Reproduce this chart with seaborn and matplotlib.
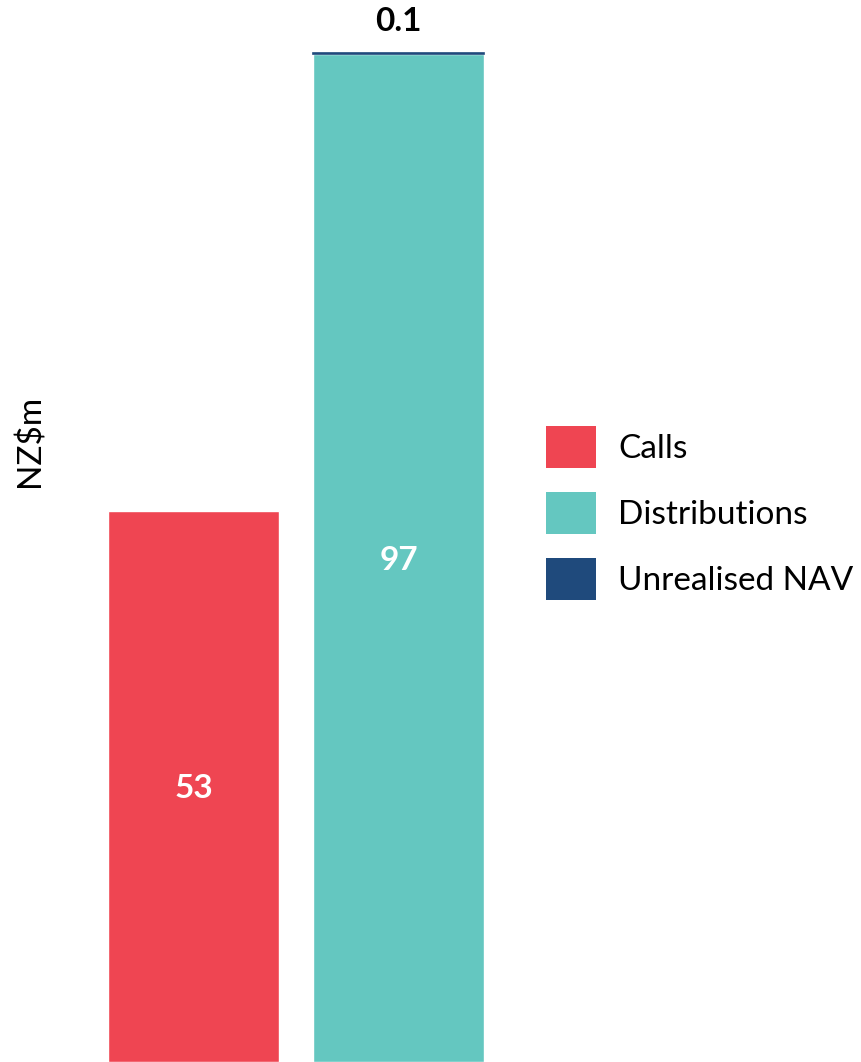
import matplotlib
matplotlib.use("Agg")
import matplotlib.pyplot as plt
import seaborn as sns
import pandas as pd
from matplotlib.patches import Patch

categories = ["Calls", "Distributions"]
base_values = [53, 97]
nav_value = 0.1
series_names = ["Calls", "Distributions", "Unrealised NAV"]
colors = ["#EF4552", "#64C7C0", "#1F4A7C"]

sns.set_theme(style="white")
plt.rcParams['font.family'] = ['Lato', 'DejaVu Sans']
plt.rcParams['text.color'] = 'black'
plt.rcParams['axes.labelcolor'] = 'black'

fig = plt.figure(figsize=(8.61, 10.62), dpi=100)
ax = fig.add_axes([0, 0, 1, 1])

df = pd.DataFrame({"cat": categories, "val": base_values})
sns.barplot(data=df, x="cat", y="val", hue="cat", palette=colors[:2],
            width=0.834, dodge=False, legend=False, ax=ax, saturation=1)

# Unrealised NAV stacked on top of distributions
ax.bar([1], [nav_value], bottom=[base_values[1]], width=0.834,
       color=colors[2], edgecolor=colors[2], linewidth=1.2)

ax.set_xlim(-0.944, 3.256)
ax.set_ylim(0, 102.15)

for i, v in enumerate(base_values):
    ax.text(i, v / 2, f"{v}", ha="center", va="center_baseline", color="white",
            fontsize=24, fontweight="bold")
ax.text(1, base_values[1] + nav_value + 1.6, f"{nav_value}", ha="center",
        va="bottom", color="black", fontsize=24, fontweight="bold")

ax.set_xticks([])
ax.set_yticks([])
ax.set_xlabel("")
ax.set_ylabel("NZ$m", fontsize=24, color="black")
ax.yaxis.label.set_va("center")
ax.yaxis.set_label_coords(30 / 861, 1 - 441 / 1062)
for s in ax.spines.values():
    s.set_visible(False)

handles = [Patch(facecolor=c, edgecolor="none") for c in colors]
ax.legend(handles, series_names, loc="center left",
          bbox_to_anchor=(546 / 861, 1 - 513 / 1062), frameon=False,
          fontsize=24, handlelength=1.5, handleheight=1.56,
          labelspacing=0.72, handletextpad=0.66, borderaxespad=0, borderpad=0,
          labelcolor="black")

fig.savefig("out.png", dpi=100)
